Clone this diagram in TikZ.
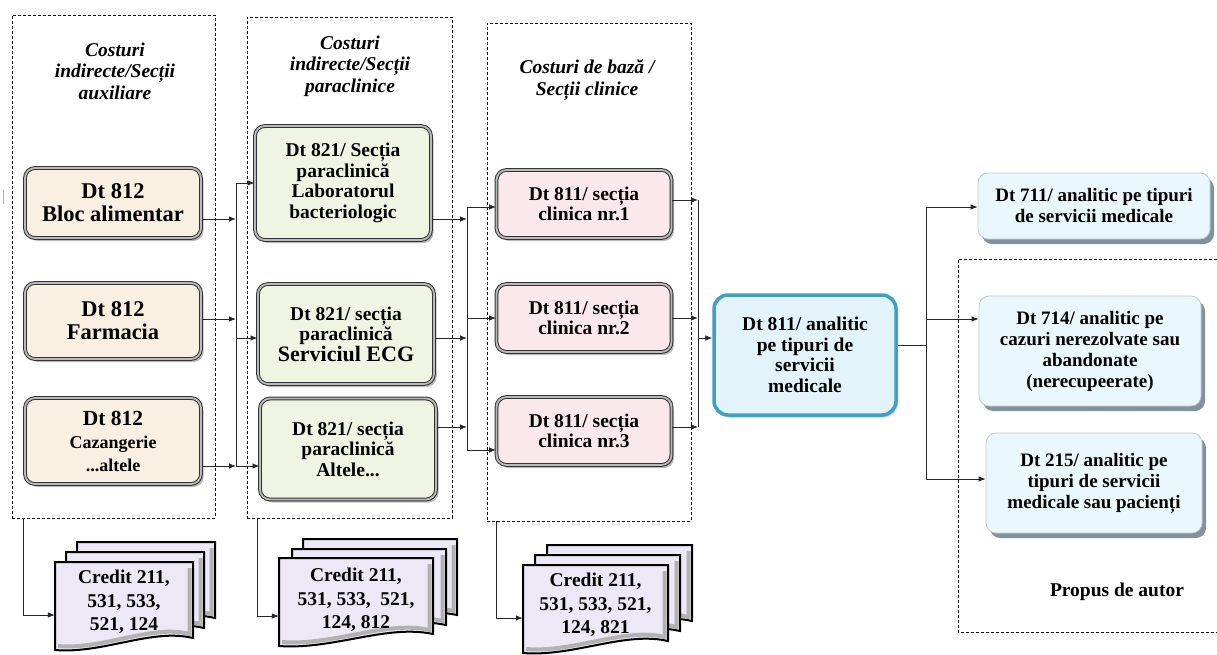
\documentclass[tikz,border=0pt]{standalone}
\usepackage{fontspec}
\setmainfont{Liberation Serif}
\usetikzlibrary{arrows.meta,shadows}
\definecolor{auxcream}{RGB}{250,240,226}
\definecolor{paragreen}{RGB}{239,245,226}
\definecolor{clinpink}{RGB}{251,232,234}
\definecolor{centralblue}{RGB}{226,244,250}
\definecolor{centralrim}{RGB}{62,160,196}
\definecolor{outcyan}{RGB}{234,247,252}
\definecolor{outrim}{RGB}{128,146,156}
\definecolor{docfill}{RGB}{236,232,245}

\tikzset{
  >={Latex[length=7pt,width=5.5pt]},
  wire/.style={line width=0.8pt, black!85},
  colframe/.style={draw, dash pattern=on 3pt off 2pt, line width=0.7pt},
  colhead/.style={align=center, font=\bfseries\itshape\fontsize{19.5}{21.5}\selectfont},
  acct/.style={rounded corners=10pt, draw=black!80, double=gray!55, double distance=1.8pt,
    line width=1pt, align=center,
    drop shadow={shadow xshift=2.5pt, shadow yshift=-3pt, opacity=0.55}},
  auxbox/.style={acct, fill=auxcream, minimum width=176pt, font=\bfseries\fontsize{22.5}{23}\selectfont},
  parabox/.style={acct, fill=paragreen, minimum width=176pt, font=\bfseries\fontsize{19.5}{20.5}\selectfont},
  clinbox/.style={acct, fill=clinpink, minimum width=175pt, minimum height=68pt, font=\bfseries\fontsize{19.5}{20.5}\selectfont},
  centralbox/.style={rounded corners=14pt, draw=centralrim, line width=3.5pt, fill=centralblue,
    align=center, minimum width=182pt, minimum height=120pt, font=\bfseries\fontsize{19.5}{20.5}\selectfont,
    drop shadow={shadow xshift=2pt, shadow yshift=-2.5pt, opacity=0.35}},
  outbox/.style={rounded corners=10pt, draw=outrim!50, line width=0.8pt, fill=outcyan, align=center,
    font=\bfseries\fontsize{19}{21}\selectfont,
    drop shadow={shadow xshift=4pt, shadow yshift=-5pt, fill=outrim, opacity=1}},
  sheet/.style={draw=black, line width=2pt, line join=miter, fill=docfill},
  bevel/.style={gray!60, line width=4pt},
  credit/.style={align=center, minimum height=80pt, font=\bfseries\fontsize{19.5}{23.5}\selectfont},
  authornote/.style={font=\bfseries\fontsize{19.5}{21}\selectfont},
}

% one sheet of a credit stack: x, y (top left), width
\newcommand{\creditsheet}[3]{%
  \draw[sheet] (#1,#2) -- ({#1+#3},#2) -- ({#1+#3},{#2+76})
    .. controls ({#1+0.7*#3},{#2+66}) and ({#1+0.35*#3},{#2+92}) .. (#1,{#2+88}) -- cycle;
  \draw[bevel] ({#1+#3-3.5},{#2+6}) -- ({#1+#3-3.5},{#2+72})
    .. controls ({#1+0.7*#3},{#2+62}) and ({#1+0.35*#3},{#2+88}) .. ({#1+3},{#2+84});}

\begin{document}
\begin{tikzpicture}[x=1pt,y=-1pt]
\useasboundingbox (0,0) rectangle (1217,655);

% dashed column frames
\node[colframe, minimum width=203pt, minimum height=503pt] (colA) at (113.5,266.5) {};
\node[colframe, minimum width=205pt, minimum height=501pt] (colB) at (349.5,267.5) {};
\node[colframe, minimum width=204pt, minimum height=498pt] (colC) at (589,272) {};
\draw[dash pattern=on 3pt off 2pt, line width=0.7pt] (1217,259) -- (958,259) -- (958,632) -- (1217,632);
\draw[gray!60, line width=0.8pt] (3,190) -- (3,204);

% column titles
\node[colhead] (hdrA) at (115,71) {Costuri\\indirecte/Secții\\auxiliare};
\node[colhead] (hdrB) at (350,66) {Costuri\\indirecte/Secții\\paraclinice};
\node[colhead] (hdrC) at (587,80) {Costuri de bază /\\Secții clinice};

% auxiliary sections
\node[auxbox, minimum height=70pt] (aux1) at (113,203) {Dt 812\\Bloc alimentar};
\node[auxbox, minimum height=76pt] (aux2) at (113,321) {Dt 812\\Farmacia};
\node[auxbox, minimum height=86pt] (aux3) at (113,441) {\fontsize{21.5}{23}\selectfont Dt 812\\\fontsize{18}{21}\selectfont Cazangerie\\\fontsize{18}{21}\selectfont ...altele};

% paraclinical sections
\node[parabox, minimum height=114pt] (para1) at (343,183) {Dt 821/ Secția\\paraclinică\\Laboratorul\\bacteriologic};
\node[parabox, minimum height=100pt] (para2) at (346,334) {Dt 821/ secția\\paraclinică\\\fontsize{22}{24}\selectfont Serviciul ECG};
\node[parabox, minimum height=101pt] (para3) at (348,449) {Dt 821/ secția\\paraclinică\\Altele...};

% clinical sections
\node[clinbox] (clin1) at (584,204) {Dt 811/ secția\\clinica nr.1};
\node[clinbox] (clin2) at (584,318) {Dt 811/ secția\\clinica nr.2};
\node[clinbox] (clin3) at (584,431) {Dt 811/ secția\\clinica nr.3};

% analytic account
\node[centralbox] (central) at (805,355) {Dt 811/ analitic\\pe tipuri de\\servicii\\medicale};

% outputs
\node[outbox, minimum width=232pt, minimum height=66pt] (out1) at (1094,206) {Dt 711/ analitic pe tipuri\\de servicii medicale};
\node[outbox, minimum width=222pt, minimum height=110pt] (out2) at (1090,351) {Dt 714/ analitic pe\\cazuri nerezolvate sau\\abandonate\\(nerecupeerate)};
\node[outbox, minimum width=216pt, minimum height=100pt] (out3) at (1094,483) {Dt 215/ analitic pe\\tipuri de servicii\\medicale sau pacienți};
\node[authornote] (author) at (1117,592) {Propus de autor};

% credit stacks
\creditsheet{77}{542}{138}
\creditsheet{66}{552}{138}
\creditsheet{55}{562}{138}
\node[credit, minimum width=138pt] (cr1) at (124,602) {Credit 211,\\531, 533,\\521, 124};
\creditsheet{303}{539}{154}
\creditsheet{292}{549}{154}
\creditsheet{279}{558}{154}
\node[credit, minimum width=154pt] (cr2) at (356,600) {Credit 211,\\531, 533,~~521,\\124, 812};
\creditsheet{547}{545}{145}
\creditsheet{535}{555}{145}
\creditsheet{523}{565}{145}
\node[credit, minimum width=145pt] (cr3) at (595.5,605) {Credit 211,\\531, 533, 521,\\124, 821};

% junctions
\coordinate (b1a) at (236,183);
\coordinate (b1b) at (236,219);
\coordinate (b1c) at (236,319);
\coordinate (b1d) at (236,338);
\coordinate (b1e) at (236,466);
\coordinate (b2a) at (467,207);
\coordinate (b2b) at (467,219);
\coordinate (b2c) at (467,318);
\coordinate (b2d) at (467,338);
\coordinate (b2e) at (467,427);
\coordinate (b2f) at (467,450);
\coordinate (b3a) at (698,200);
\coordinate (b3b) at (698,318);
\coordinate (b3c) at (698,338);
\coordinate (b3d) at (698,427);
\coordinate (b4a) at (926,207);
\coordinate (b4b) at (926,319);
\coordinate (b4c) at (926,345);
\coordinate (b4d) at (926,479);
\coordinate (d1) at (23,615);
\coordinate (d2) at (257,616);
\coordinate (d3) at (496,618);

% auxiliary -> paraclinical
\draw[wire] (b1a) -- (b1e);
\draw[wire,->] (aux1.east |- b1b) -- (b1b);
\draw[wire,->] (aux2.east |- b1c) -- (b1c);
\draw[wire,->] (aux3.east |- b1e) -- (b1e);
\draw[wire,->] (b1a) -- (b1a -| para1.west);
\draw[wire,->] (b1d) -- (b1d -| para2.west);
\draw[wire,->] (b1e) -- (b1e -| para3.west);

% paraclinical -> clinical
\draw[wire] (b2a) -- (b2f);
\draw[wire,->] (para1.east |- b2b) -- (b2b);
\draw[wire,->] (para2.east |- b2d) -- (b2d);
\draw[wire,->] (para3.east |- b2e) -- (b2e);
\draw[wire,->] (b2a) -- (b2a -| clin1.west);
\draw[wire,->] (b2c) -- (b2c -| clin2.west);
\draw[wire,->] (b2f) -- (b2f -| clin3.west);

% clinical -> analytic
\draw[wire] (b3a) -- (b3d);
\draw[wire,->] (clin1.east |- b3a) -- (b3a);
\draw[wire,->] (clin2.east |- b3b) -- (b3b);
\draw[wire,->] (clin3.east |- b3d) -- (b3d);
\draw[wire,->] (b3c) -- (b3c -| central.west);

% analytic -> outputs
\draw[wire] (b4a) -- (b4d);
\draw[wire] (central.east |- b4c) -- (b4c);
\draw[wire,->] (b4a) -- (b4a -| out1.west);
\draw[wire,->] (b4b) -- (b4b -| out2.west);
\draw[wire,->] (b4d) -- (b4d -| out3.west);

% columns -> credit stacks
\draw[wire,->] (colA.south -| d1) -- (d1) -- (cr1.west |- d1);
\draw[wire,->] (colB.south -| d2) -- (d2) -- (cr2.west |- d2);
\draw[wire,->] (colC.south -| d3) -- (d3) -- (cr3.west |- d3);
\end{tikzpicture}
\end{document}
